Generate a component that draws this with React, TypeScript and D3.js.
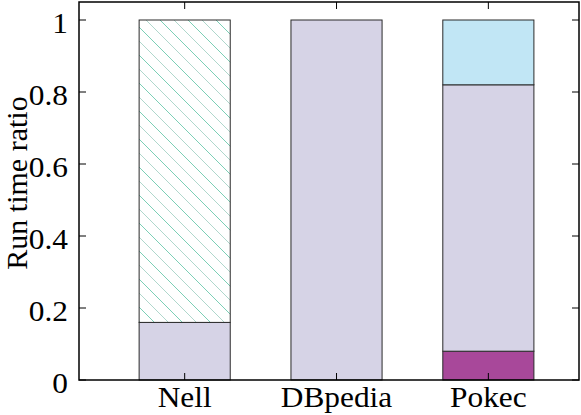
import { useMemo } from "react";
import * as d3 from "d3";

// Values.
const categories = ["Nell", "DBpedia", "Pokec"];
const seriesKeys = ["magenta", "lavender", "hatch", "blue"];
const magenta = [0, 0, 0.08];
const lavender = [0.16, 1.0, 0.74];
const hatch = [0.84, 0, 0];
const blue = [0, 0, 0.18];
const yTicks = [0, 0.2, 0.4, 0.6, 0.8, 1];
const yTickLabels = ["0", "0.2", "0.4", "0.6", "0.8", "1"];

const fills: { [k: string]: string } = {
  magenta: "#a8489a",
  lavender: "#d6d3e6",
  hatch: "url(#hatch)",
  blue: "#c1e6f5",
};

const WIDTH = 581;
const HEIGHT = 415;
const margin = { top: 2, right: 2, bottom: 35, left: 79 };
const FONT = "Liberation Serif, Tinos, Times New Roman, Times, serif";
const FS = 28.5;
const SX = 1.1; // the reference text is a little wider than it is tall

export default function App() {
  const rows = useMemo(
    () =>
      categories.map((c, i) => ({
        name: c,
        magenta: magenta[i],
        lavender: lavender[i],
        hatch: hatch[i],
        blue: blue[i],
      })),
    []
  );

  const stacked = useMemo(() => d3.stack<any>().keys(seriesKeys)(rows), [rows]);

  const x = d3
    .scaleLinear()
    .domain([-0.696, 2.597])
    .range([margin.left, WIDTH - margin.right]);
  const y = d3
    .scaleLinear()
    .domain([0, 1.05])
    .range([HEIGHT - margin.bottom, margin.top]);
  const barW = x(0.6) - x(0);
  const tickLen = 7;
  const x0 = margin.left;
  const x1 = WIDTH - margin.right;
  const y0 = HEIGHT - margin.bottom;
  const y1 = margin.top;

  return (
    <svg
      width={WIDTH}
      height={HEIGHT}
      style={{ position: "absolute", left: 0, top: 0, background: "#fff", fontFamily: FONT }}
    >
      <defs>
        <pattern id="hatch" patternUnits="userSpaceOnUse" width={28} height={28}>
          <rect width={28} height={28} fill="#fff" />
          <line x1={0} y1={0} x2={28} y2={28} stroke="#6ccaae" strokeWidth={0.9} />
          <line x1={14} y1={0} x2={28} y2={14} stroke="#a6d3c6" strokeWidth={0.9} />
          <line x1={0} y1={14} x2={14} y2={28} stroke="#a6d3c6" strokeWidth={0.9} />
        </pattern>
      </defs>

      {/* bars */}
      {stacked.map((layer) => (
        <g key={layer.key}>
          {layer.map((d, i) =>
            d[1] - d[0] > 0 ? (
              <rect
                key={i}
                x={x(i) - barW / 2}
                y={y(d[1])}
                width={barW}
                height={y(d[0]) - y(d[1])}
                fill={fills[layer.key]}
                stroke="#2a2a2a"
                strokeWidth={1}
              />
            ) : null
          )}
        </g>
      ))}

      {/* frame */}
      <rect
        x={x0}
        y={y1}
        width={x1 - x0}
        height={y0 - y1}
        fill="none"
        stroke="#000"
        strokeWidth={1.5}
      />

      {/* y ticks, mirrored on the right */}
      {yTicks.map((t, i) => (
        <g key={t}>
          <line x1={x0} x2={x0 + tickLen} y1={y(t)} y2={y(t)} stroke="#000" />
          <line x1={x1} x2={x1 - tickLen} y1={y(t)} y2={y(t)} stroke="#000" />
          <text
            transform={`translate(68,${y(t) + 13}) scale(${SX},1)`}
            textAnchor="end"
            fontSize={FS}
          >
            {yTickLabels[i]}
          </text>
        </g>
      ))}

      {/* x ticks, mirrored on the top */}
      {categories.map((c, i) => (
        <g key={c}>
          <line x1={x(i)} x2={x(i)} y1={y0} y2={y0 - tickLen} stroke="#000" />
          <line x1={x(i)} x2={x(i)} y1={y1} y2={y1 + tickLen} stroke="#000" />
          <text
            transform={`translate(${x(i)},407) scale(${SX},1)`}
            textAnchor="middle"
            fontSize={FS}
          >
            {c}
          </text>
        </g>
      ))}

      {/* y axis title */}
      <text
        transform={`translate(27,183) rotate(-90)`}
        textAnchor="middle"
        fontSize={30}
      >
        Run time ratio
      </text>
    </svg>
  );
}
